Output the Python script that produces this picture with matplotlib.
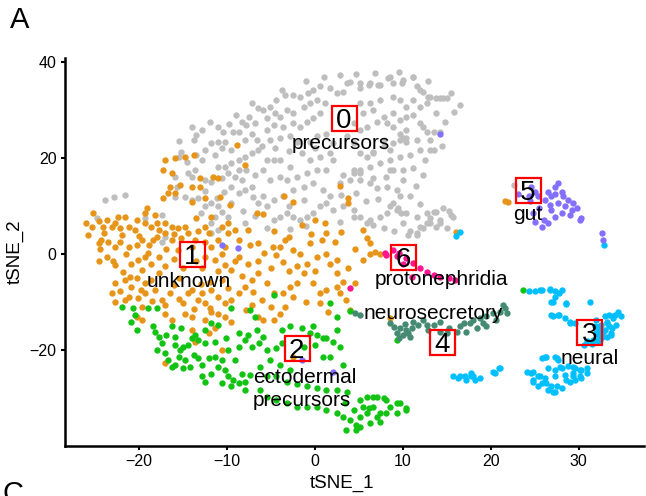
import numpy as np
import matplotlib
matplotlib.use("Agg")
import matplotlib.pyplot as plt

plt.rcParams['font.family'] = ['Liberation Sans', 'DejaVu Sans']

# ---------------- data (tSNE coordinates) ----------------
precursors_xy = [
    (11.2,36.9),(10.0,36.3),(8.3,36.6),(8.9,35.6),(7.2,35.2),(6.2,35.2),(5.1,34.5),(4.0,35.9),(3.2,33.8),(2.5,33.5),
    (1.7,34.5),(0.6,34.9),(-0.2,34.2),(-0.8,33.5),(-1.7,32.8),(-2.5,33.1),(-3.4,33.1),(-4.4,32.1),(-5.1,30.7),(-5.9,30.0),
    (-5.5,28.3),(-4.6,29.3),(-4.0,28.6),(-3.2,30.0),(-2.5,29.3),(-1.3,30.7),(-0.6,31.4),(0.2,32.1),(1.1,31.4),(0.6,29.3),
    (-0.2,28.3),(-0.9,27.6),(-1.7,26.5),(-2.5,27.2),(-3.6,26.5),(-4.7,26.9),(-5.5,25.8),(-5.1,23.8),(-4.0,24.1),(-2.8,24.5),
    (-2.1,23.4),(-0.6,23.4),(0.2,24.5),(1.3,25.1),(2.1,23.1),(11.6,34.9),(12.3,33.8),(13.1,32.8),(13.8,32.4),(14.6,32.4),
    (12.7,31.4),(11.9,30.7),(11.2,32.1),(10.4,30.7),(9.7,32.1),(8.9,32.8),(7.4,32.1),(6.3,31.4),(5.1,31.4),(5.5,29.3),
    (6.6,30.0),(7.8,28.6),(8.9,29.3),(9.7,27.9),(10.4,28.6),(11.2,29.0),(11.9,27.2),(12.7,25.5),(13.5,25.5),(10.4,25.8),
    (9.7,25.1),(8.9,26.5),(8.2,27.2),(7.0,27.6),(5.9,26.5),(5.1,25.8),(4.4,27.2),(3.6,24.5),(4.4,23.1),(5.1,21.0),
    (5.9,20.3),(6.6,21.3),(7.8,22.4),(8.9,23.1),(9.7,23.8),(10.4,24.1),(11.6,23.8),(13.5,21.7),(11.9,21.7),(10.8,20.6),
    (9.7,20.3),(8.5,19.6),(7.4,18.9),(6.3,18.2),(5.1,17.5),(4.4,16.8),(3.2,16.5),(2.8,14.7),(4.0,15.4),(5.1,15.4),
    (6.3,14.7),(7.0,13.7),(8.2,14.0),(9.3,13.3),(9.7,12.0),(8.9,10.6),(9.3,9.2),(8.2,8.5),(7.4,7.8),(6.3,7.1),
    (5.1,7.8),(4.4,9.2),(3.2,9.9),(2.1,9.2),(1.3,10.6),(0.6,9.9),(-0.2,8.5),(-0.9,7.8),(-1.7,7.1),(-2.5,7.8),
    (-3.2,8.5),(-4.0,7.8),(-4.7,7.1),(-5.5,9.9),(-5.9,12.0),(-4.7,11.3),(-3.6,12.0),(-2.5,13.3),(-1.3,14.0),(-0.2,14.7),
    (0.9,13.3),(1.7,12.0),(2.1,19.6),(1.3,17.5),(0.2,17.5),(-0.9,16.8),(-2.1,16.1),(-2.8,18.2),(-4.0,19.6),(-4.7,19.6),
    (-5.5,19.6),(-5.9,17.5),(-5.1,15.4),(-4.0,16.1),(-3.2,15.4),(-0.6,19.6),(0.6,20.3),(1.7,21.0),(11.6,7.8),(12.7,8.5),
    (13.5,8.8),(14.2,7.1),(13.1,6.4),(11.9,5.7),(10.8,4.7),(11.6,4.0),(10.0,6.4),(10.4,8.5),(13.8,5.7),(15.0,5.4),
    (-8.3,27.6),(-7.8,26.9),(-8.7,25.5),(-9.3,25.5),(-7.2,25.1),(-8.0,23.8),(-6.6,23.8),(-6.5,21.7),(-7.2,21.0),(-8.0,20.3),
    (-8.7,19.6),(-9.5,21.7),(-10.2,23.4),(-11.0,23.4),(-11.8,23.1),(-10.6,22.0),(-11.4,20.6),(-12.5,21.7),(-12.9,19.6),(-13.5,20.6),
    (-12.9,25.8),(-13.5,24.8),(-13.8,23.8),(-15.2,21.3),(-15.5,20.3),(-14.6,19.2),(-13.7,17.5),(-14.4,16.8),(-14.0,16.1),(-15.9,16.1),
    (-15.7,14.0),(-15.9,11.9),(-14.8,11.9),(-14.0,11.3),(-13.3,11.6),(-12.5,9.9),(-11.8,10.6),(-11.2,11.6),(-11.0,9.9),(-11.4,7.8),
    (-11.8,6.4),(-10.6,8.8),(-9.9,7.8),(-9.5,10.6),(-8.7,12.7),(-8.0,13.3),(-7.0,11.9),(-6.5,10.6),(-7.2,14.0),(-8.3,15.4),
    (-9.1,16.1),(-9.9,16.8),(-10.2,18.2),(-11.0,18.2),(-10.6,15.8),(-9.5,14.0),(-11.8,15.1),(-12.5,15.4),(-9.5,18.9),(-8.7,17.5),
    (-7.8,17.5),(-6.8,16.5),(-21.6,12.3),(-22.9,11.9),(-23.9,11.3),(-24.8,7.4),(-17.4,8.1),(-19.3,7.4),(-17.1,3.6),(-17.4,2.6),
    (-11.8,4.3),(-11.0,5.0),(15.7,7.8),(15.3,8.9),(14.6,9.5),(22.6,14.4),
    (4.4,17.5),(5.1,16.8),(6.6,15.8),(8.1,16.1),(8.9,17.5),(10.0,15.4),(8.5,9.9),(9.5,9.5),(9.8,8.5),(4.4,7.8),
    (5.9,6.4),(6.6,6.0),(10.6,4.0),(11.6,4.3),(12.3,5.4),(12.7,6.4),(13.1,7.4),(13.8,8.8),(14.2,6.4),(15.5,8.1),
    (3.6,35.6),(5.1,35.6),(6.3,35.6),(7.4,35.2),(8.5,36.9),(9.9,35.6),(11.2,36.9),(11.9,34.2),(12.9,32.8),(14.2,32.4),
    (15.0,32.4),(13.8,29.3),(12.3,26.5),(13.1,23.8),(14.2,25.5),(13.1,21.7),(7.8,23.8),(10.0,24.1),(10.4,23.4),(8.5,21.7),
    (6.6,21.0),(10.0,17.5),(8.5,17.5),
    (-3.0,21.5),(-1.5,21.0),(0.0,22.0),(-4.5,22.0),(-6.0,22.5),(-7.5,28.5),(-9.8,27.0),(-11.0,26.5),(-12.0,27.5),(-6.8,27.2),
    (-6.5,30.5),(-7.2,31.5),(-3.8,34.2),(-1.0,36.0),(1.0,36.8),(2.8,37.2),(4.7,37.5),(6.8,37.8),(9.6,38.0),(12.8,36.0),
    (15.5,33.5),(16.5,31.0),(15.8,29.5),(14.8,27.5),(14.5,22.5),(12.5,19.5),(11.2,18.0),(12.3,16.5),(11.5,14.2),(10.8,12.0),
    (12.0,10.5),(7.2,11.5),(5.8,11.0),(4.7,12.8),(3.0,12.2),(-1.2,11.3),(-3.0,10.0),(-6.8,8.0),(-8.2,9.0),(-8.0,6.5),
    (-5.5,5.5),(-2.8,5.2),(-1.0,5.8),(2.8,6.6),(7.8,5.5),(9.0,4.8),(-13.0,8.5),(-10.3,13.0),(-12.5,13.2),(-15.5,23.5),
    (-14.0,26.5),(-10.5,25.5),(-9.0,29.0),
]

unknown_xy = [
    (-8.9,22.7),(-8.0,18.6),(-13.8,20.6),(-14.8,20.3),(-15.9,19.9),(-17.1,19.6),(-17.3,17.5),(-16.3,16.8),(-16.5,14.0),(-16.7,12.7),
    (-17.3,11.6),(-15.9,12.7),(-15.4,14.4),(-14.0,14.0),(-13.1,14.0),(-13.1,15.8),(-11.6,16.1),(-11.0,15.8),(-12.5,11.6),(-10.8,11.9),
    (-9.7,10.2),(-14.0,10.9),(-19.1,9.5),(-19.3,8.5),(-18.2,8.1),(-20.3,7.1),(-21.6,7.8),(-22.4,7.8),(-22.8,6.4),(-23.7,7.1),
    (-24.6,6.8),(-25.4,5.7),(-25.2,8.5),(-24.1,5.7),(-23.1,5.7),(-22.2,5.4),(-21.2,5.7),(-20.5,5.0),(-19.3,6.4),(-18.6,5.7),
    (-18.0,6.4),(-17.1,6.4),(-16.3,5.7),(-15.6,5.4),(-14.8,5.7),(-14.4,4.3),(-15.2,3.3),(-16.3,2.9),(-17.1,4.3),(-17.8,5.0),
    (-18.4,2.9),(-18.9,1.9),(-19.7,2.9),(-20.3,1.9),(-21.2,1.5),(-22.2,2.6),(-22.8,1.5),(-23.5,2.6),(-24.3,2.9),(-24.6,2.2),
    (-12.1,4.3),(-13.3,4.7),(-13.7,2.9),(-12.5,2.6),(-11.0,2.9),(-9.9,4.3),(-9.1,5.0),(-7.6,5.0),(-6.6,8.5),(-9.9,6.4),
    (-10.6,5.7),(-12.5,5.7),(-11.8,7.8),(-13.5,7.4),(-8.7,2.9),(-7.4,1.9),(-6.5,2.2),(-10.2,1.5),(-11.8,1.5),
    (-23.7,-0.6),(-22.8,-2.3),(-21.8,-3.7),(-20.9,-2.0),(-20.1,-1.2),(-19.3,-0.6),(-19.7,-3.3),(-18.6,-2.0),(-17.8,-0.6),(-17.1,-2.6),
    (-17.8,-4.0),(-18.6,-5.4),(-19.3,-6.1),(-20.3,-5.1),(-20.9,-6.8),(-21.2,-8.9),(-22.2,-7.8),(-22.8,-6.1),(-23.1,-8.2),(-22.8,-9.9),
    (-21.6,-9.6),(-20.1,-9.2),(-19.7,-11.0),(-19.7,-13.7),(-20.3,-13.1),(-19.3,-8.2),(-18.2,-7.5),(-17.4,-9.6),(-17.1,-10.6),(-16.5,-8.2),
    (-17.1,-12.4),(-16.3,-13.7),(-15.0,-10.3),(-14.8,-12.4),(-14.4,-8.2),(-14.0,-7.5),(-13.3,-9.6),(-12.5,-10.3),(-12.9,-8.2),(-11.8,-7.5),
    (-11.0,-8.9),(-10.2,-10.3),(-9.5,-9.6),(-8.7,-8.2),(-8.0,-6.8),(-7.2,-5.4),(-6.5,-4.0),(-7.6,-2.0),(-8.7,-0.6),(-10.6,0.1),
    (-9.5,-3.3),(-11.4,-1.2),(-12.5,-0.6),(-14.0,-13.1),(-12.5,-13.7),(-11.8,-12.0),(-11.0,-12.4),(-10.2,-13.1),(-9.5,-14.1),(-11.4,-15.5),
    (-14.0,-15.8),(-12.1,-16.5),(-10.6,-20.0),(-7.2,-10.6),(-7.8,-11.7),(-6.5,-13.1),(-17.1,-22.8),(-13.7,-18.3),
    (-13.5,-1.5),(-12.9,-3.0),(-11.0,-3.5),(-10.2,-2.2),(-9.1,-1.5),(-8.3,-4.5),(-10.6,-5.5),(-12.0,-5.8),(-13.0,-6.2),(-9.9,-7.0),
    (-15.5,-5.0),(-16.0,-1.0),(-15.0,-3.0),(-26.0,6.5),(-25.8,4.0),
    (-4.4,-0.2),(-3.6,-1.6),(-5.5,-6.1),(-4.7,-8.2),(-3.6,-8.2),(-2.8,-6.8),(-1.7,0.1),(-0.9,-2.0),(-1.3,-4.0),(-2.1,-6.1),
    (-2.5,-8.9),(-3.4,-11.0),(-4.0,-12.4),(-4.7,-13.7),(-5.9,-13.7),(-0.2,-6.1),(0.6,-8.2),(1.3,-7.5),(2.5,-6.8),(3.2,-5.8),
    (0.6,-10.3),(1.7,-2.0),(2.5,-1.2),(1.3,0.1),(0.2,-0.6),(2.5,-4.0),(2.8,-8.2),(4.0,-11.7),(5.5,-1.2),(6.3,0.1),
    (7.4,0.1),(8.5,-13.4),(-2.5,-21.4),(-5.0,-3.0),(-4.8,1.5),(-5.8,0.3),(-3.0,-3.5),
    (2.8,14.2),(3.8,11.6),(3.7,10.6),(-3.5,12.1),(-2.5,10.9),(-5.9,8.3),(-4.7,4.7),(-0.4,4.2),(1.1,6.4),(1.3,4.3),
    (0.8,2.9),(2.3,2.6),(-0.6,2.2),(-3.4,2.9),(-4.0,1.5),(-2.5,0.8),(5.5,5.0),(5.9,3.3),(6.3,2.2),(6.8,0.5),
    (16.0,4.5),(21.6,11.1),(22.0,10.9),
    (-24.0,4.3),(-22.0,4.0),(-20.0,3.8),(-18.0,3.5),(-16.0,4.2),(-14.0,1.5),(-15.6,0.8),(-17.0,1.0),(-19.0,0.3),(-21.5,0.0),
    (-23.0,-1.5),(-24.5,1.0),(-21.0,-4.8),(-19.8,-7.5),(-16.0,-6.5),(-15.5,-9.3),(-13.8,-11.5),(-12.0,-11.3),(-18.5,-9.8),(-21.6,-5.5),
    (-24.6,-1.5),(-6.0,-9.5),(-5.0,-11.0),(-1.0,-10.0),(1.5,-12.0),(3.5,-9.5),(3.8,-3.0),(4.5,-6.0),(0.0,-3.5),(-2.0,-2.5),
    (-3.0,3.5),(-1.5,6.0),(0.0,7.0),(3.0,4.5),(4.5,1.0),(-6.5,-1.5),(-7.0,-8.0),
]

ectodermal_xy = [
    (-22.0,-11.0),(-20.7,-11.3),(-20.5,-12.7),(-20.9,-14.1),(-20.3,-15.8),(-19.0,-11.3),(-18.0,-11.3),(-18.4,-15.1),(-18.2,-16.2),(-17.8,-17.2),
    (-17.4,-18.6),(-18.0,-20.0),(-17.1,-20.7),(-16.9,-16.9),(-16.3,-15.1),(-15.9,-17.2),(-15.9,-19.0),(-15.4,-20.0),(-15.5,-21.4),(-15.0,-19.3),
    (-14.4,-19.0),(-16.7,-22.1),(-15.9,-23.1),(-15.0,-23.8),(-16.3,-23.5),(-13.8,-21.0),(-13.3,-21.7),(-12.9,-23.1),(-12.1,-21.7),(-11.4,-21.4),
    (-10.6,-22.1),(-11.0,-23.5),(-10.2,-24.2),(-9.9,-25.5),(-9.3,-26.2),(-8.7,-26.9),(-8.0,-26.6),(-7.4,-25.2),(-8.3,-24.9),(-9.1,-22.1),
    (-9.9,-20.0),(-8.7,-19.3),(-8.0,-17.9),(-7.2,-19.3),(-7.6,-16.9),(-8.7,-16.5),(-10.1,-17.6),(-11.4,-18.3),(-12.5,-18.6),(-13.3,-17.9),
    (-13.7,-16.9),(-12.5,-15.8),(-11.8,-14.4),(-11.0,-14.8),(-9.5,-11.3),(-7.4,-11.7),(-6.8,-13.1),(-6.6,-15.8),(-6.4,-18.6),(-11.8,-24.9),
    (-12.9,-25.5),(-12.5,-26.6),(-10.6,-26.9),(-9.5,-27.6),(-8.0,-28.3),(-14.2,-23.5),(-14.8,-22.1),(-14.0,-17.6),(-15.2,-15.5),
    (-4.7,-8.5),(1.7,-10.3),(2.5,-13.1),(-5.9,-17.2),(-5.5,-20.0),(-4.4,-19.6),(-3.8,-15.8),(-2.8,-15.1),(-1.5,-15.5),(-0.2,-15.1),
    (-0.6,-16.5),(0.2,-16.9),(0.9,-17.6),(0.0,-19.0),(0.9,-21.4),(1.7,-21.4),(3.2,-23.1),(-6.3,-23.5),(-5.1,-22.1),(-4.0,-23.1),
    (-2.8,-24.2),(-5.5,-25.5),(-4.4,-25.5),(-3.2,-26.6),(-2.1,-27.1),(-0.9,-27.6),(0.2,-28.0),(1.3,-28.3),(2.5,-28.3),(3.6,-28.7),
    (5.9,-29.7),(7.0,-29.7),(8.1,-30.4),(9.7,-31.1),(10.4,-32.5),(9.3,-33.2),(8.1,-33.2),(7.0,-33.9),(5.9,-33.2),(5.1,-33.9),
    (4.4,-32.5),(5.5,-31.8),(6.6,-31.8),(7.4,-34.9),(5.1,-36.0),(4.7,-36.6),(3.2,-33.9),(2.5,-33.2),(1.3,-32.5),(0.2,-31.8),
    (-0.9,-31.8),(-2.1,-31.8),(-3.2,-31.1),(-4.4,-30.4),(-5.5,-29.7),(-6.3,-28.3),(3.4,-31.1),(4.0,-34.6),(6.3,-35.3),(2.5,-15.8),
    (2.1,-18.3),(2.8,-19.3),(1.3,-17.6),(-1.3,-19.3),(-3.8,-18.6),(9.3,-17.9),
    (23.7,-7.5),(4.0,-11.9),(5.1,-30.4),(6.6,-29.7),(7.8,-30.0),(9.3,-31.1),(10.4,-32.1),(6.2,-32.1),(7.4,-33.2),(4.7,-35.6),
    (8.5,-31.8),(3.5,-36.7),
]

neural_xy = [
    (25.0,-7.8),(25.8,-7.6),(26.7,-7.3),(27.3,-7.8),(28.1,-7.5),(26.9,-9.9),(28.6,-10.4),(31.3,-9.9),(27.3,-8.9),(26.9,-12.7),
    (27.7,-12.7),(28.4,-13.4),(29.0,-14.4),(33.4,-12.7),(33.9,-13.4),(34.1,-12.7),(33.2,-14.4),(33.0,-15.8),(33.7,-16.5),(32.6,-17.2),
    (31.8,-17.9),(32.2,-18.2),(30.9,-18.2),(26.2,-21.4),(27.3,-21.4),(27.7,-22.1),(26.5,-23.8),(27.3,-24.1),(28.1,-23.8),(28.8,-23.4),
    (29.6,-23.8),(30.3,-24.1),(30.9,-24.8),(30.3,-25.9),(29.4,-25.5),(28.4,-25.2),(27.3,-25.5),(26.2,-25.9),(25.4,-25.5),(24.6,-24.8),
    (24.1,-24.5),(24.8,-26.6),(25.8,-26.9),(26.9,-27.6),(28.1,-27.9),(27.3,-28.7),(26.5,-28.3),(25.4,-27.6),(29.0,-26.6),(29.6,-26.2),
    (20.9,-23.8),(20.5,-24.7),(18.8,-25.9),(17.8,-25.5),(17.1,-25.5),(16.3,-25.9),(18.2,-26.2),(32.9,1.9),(16.5,4.6),(16.0,3.8),
    (25.6,-7.5),(26.7,-7.5),(27.8,-8.2),(27.1,-9.9),(28.6,-10.3),(27.1,-13.0),(27.8,-12.7),(29.0,-14.1),(29.6,-14.4),(32.0,-13.7),
    (33.2,-14.1),(33.9,-13.0),(33.5,-15.1),(32.8,-16.2),(33.7,-16.9),(32.4,-17.9),(26.3,-21.4),(25.8,-21.7),(27.5,-21.7),(24.8,-24.5),
    (25.6,-25.5),(24.8,-26.2),(26.3,-26.9),(27.5,-27.6),(27.1,-28.7),(28.6,-26.2),(29.4,-24.8),(30.1,-24.1),(30.9,-23.8),(30.1,-25.5),
    (29.4,-23.5),(27.9,-23.5),(15.7,-25.5),(16.5,-25.5),(17.2,-26.2),(18.0,-25.5),(17.8,-24.8),(20.3,-24.5),(21.0,-23.8),(32.4,-15.1),
    (32.0,-16.5),(31.6,-17.9),(33.2,-17.2),(34.5,-12.0),(34.8,-13.0),(33.0,-13.0),(32.5,-14.8),(34.3,-14.8),(33.8,-15.5),(32.2,-16.0),
    (31.8,-15.0),(32.3,-16.8),(31.5,-18.8),(30.6,-18.9),(24.4,-7.7),
]

neurosecretory_xy = [
    (5.1,-12.7),(4.6,-12.3),(9.7,-15.5),(10.4,-15.8),(10.0,-16.9),(10.8,-17.2),(11.0,-15.5),(11.7,-14.8),(12.3,-13.7),(12.9,-15.8),
    (13.5,-14.8),(14.2,-16.2),(15.0,-16.5),(15.3,-15.5),(16.1,-16.2),(16.5,-15.1),(17.0,-14.4),(17.6,-14.4),(18.0,-13.7),(18.8,-13.4),
    (19.5,-13.0),(20.3,-12.3),(21.0,-12.0),(21.6,-11.3),(21.8,-12.3),(20.6,-13.7),(19.1,-14.4),(18.4,-15.5),(17.2,-16.2),(8.5,-14.4),
    (9.3,-16.5),(11.2,-14.1),(14.2,-14.1),(12.7,-14.8),(21.4,-10.6),(19.5,-15.1),(9.0,-15.2),(10.2,-14.6),(9.6,-17.5),(10.6,-16.4),
]

gut_xy = [
    (27.7,14.7),(27.3,14.0),(26.5,13.0),(27.3,12.6),(28.1,13.0),(28.2,12.0),(28.8,11.3),(29.4,10.6),(29.8,9.5),(30.3,7.4),
    (30.1,7.1),(29.0,8.1),(28.1,8.5),(27.3,7.8),(26.9,9.2),(26.7,10.2),(26.2,11.3),(25.4,12.0),(25.0,13.0),(24.6,14.0),
    (24.3,12.0),(26.0,7.1),(26.5,6.4),(25.0,6.7),(25.8,5.7),(24.8,8.5),(27.7,10.6),(28.4,9.9),(29.2,9.2),(26.9,12.0),
    (32.6,4.3),(32.8,2.9),(23.1,12.6),(24.5,11.0),(25.5,9.5),(-10.6,1.9),(-8.8,1.2),(-1.5,-22.1),(2.1,-24.5),(14.2,25.1),
]

protonephridia_xy = [
    (8.9,0.8),(9.3,-0.5),(10.4,-0.9),(11.2,-1.9),(11.9,-3.0),(12.7,-3.7),(13.5,-4.4),(14.2,-4.7),(15.3,-5.1),(15.9,-5.4),
    (8.1,-0.2),(11.0,-4.7),(4.0,-7.1),(8.0,0.2),(10.0,-2.0),(9.6,0.3),
]

cluster_points = [precursors_xy, unknown_xy, ectodermal_xy, neural_xy,
                  neurosecretory_xy, gut_xy, protonephridia_xy]
cluster_colors = ['#BEBEBE', '#E6951A', '#13C313', '#00BFFF',
                  '#458B74', '#8470FF', '#FF1493']

cluster_ids = ['0', '1', '2', '3', '4', '5', '6']
id_x = [3.3, -14.0, -2.1, 31.2, 14.5, 24.2, 10.0]
id_y = [28.3, 0.1, -19.5, -16.2, -18.4, 13.3, -0.7]

name_texts = ['precursors', 'unknown', 'ectodermal', 'precursors', 'neural',
              'neurosecretory', 'gut', 'protonephridia']
name_x = [2.9, -14.4, -1.2, -1.5, 31.25, 13.4, 24.2, 14.4]
name_y = [21.8, -6.8, -26.8, -31.6, -22.9, -13.6, 7.1, -6.5]

xticks = [-20, -10, 0, 10, 20, 30]
yticks = [-20, 0, 20, 40]

# ---------------- figure ----------------
fig = plt.figure(figsize=(6.46, 4.96), dpi=100)
ax = fig.add_axes([65/646, 50/496, 579/646, 388/496])

for pts, col in zip(cluster_points, cluster_colors):
    arr = np.array(pts)
    ax.scatter(arr[:, 0], arr[:, 1], s=21, c=col, linewidths=0, zorder=2)

for txt, x, y in zip(name_texts, name_x, name_y):
    ax.text(x, y, txt, fontsize=15, ha='center', va='baseline', color='black', zorder=4)

ax.plot(id_x, id_y, linestyle='none', marker='s', ms=18, mfc='none',
        mec='#FF0000', mew=1.6, zorder=5)
for cid, x, y in zip(cluster_ids, id_x, id_y):
    ax.annotate(cid, (x, y), xytext=(0, -7.2), textcoords='offset points',
                fontsize=20, ha='center', va='baseline', color='black', zorder=6)

ax.set_xlim(-28.44, 37.43)
ax.set_ylim(-40.0, 40.83)
ax.set_xticks(xticks)
ax.set_yticks(yticks)
ax.tick_params(axis='both', labelsize=11.5, length=3, width=1.5, color='black', labelcolor='black', pad=3)

for side in ['top', 'right']:
    ax.spines[side].set_visible(False)
for side in ['left', 'bottom']:
    ax.spines[side].set_linewidth(1.8)
    ax.spines[side].set_color('black')

ax.set_xlabel('tSNE_1', fontsize=13.5)
ax.set_ylabel('tSNE_2', fontsize=13.5)
ax.xaxis.set_label_coords(0.478, -0.075)
ax.yaxis.set_label_coords(-0.072, 0.5)

fig.text(10/646, 1 - 20/496, 'A', fontsize=21, ha='left', va='center')
fig.text(2/646, -6/496, 'C', fontsize=21, ha='left', va='baseline')

fig.savefig('out.png', dpi=100)
